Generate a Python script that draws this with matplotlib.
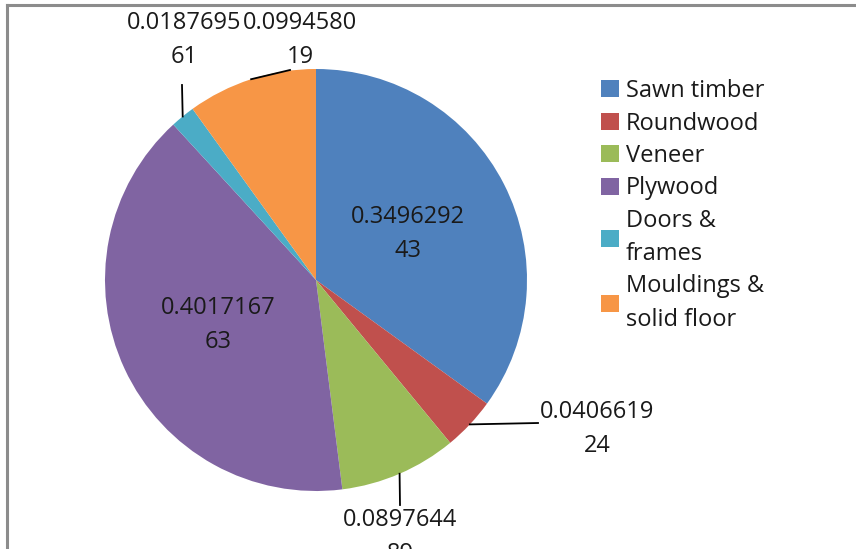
import numpy as np
import matplotlib
matplotlib.use("Agg")
import matplotlib.pyplot as plt
from matplotlib.lines import Line2D

# Share of wood product categories
categories = ["Sawn timber", "Roundwood", "Veneer", "Plywood",
              "Doors & frames", "Mouldings & solid floor"]
legend_labels = ["Sawn timber", "Roundwood", "Veneer", "Plywood",
                 "Doors &\nframes", "Mouldings &\nsolid floor"]
value_text = ["0.349629243", "0.040661924", "0.089764489", "0.401716763",
              "0.018769561", "0.099458019"]
values = [float(v) for v in value_text]
colors = ["#4F81BD", "#C0504D", "#9BBB59", "#8064A2", "#4BACC6", "#F79646"]

W, H = 856, 549
plt.rcParams["font.family"] = ["Open Sans", "DejaVu Sans"]
FS = 17

fig = plt.figure(figsize=(W / 100, H / 100), dpi=100)
ax = fig.add_axes([0, 0, 1, 1])

cx, cy, R = 316, H - 280, 211
wedges, _ = ax.pie(values, colors=colors, startangle=90, counterclock=False,
                   center=(cx, cy), radius=R, frame=True,
                   wedgeprops=dict(linewidth=0))
ax.set_xlim(0, W)
ax.set_ylim(0, H)
ax.set_aspect("equal")
ax.axis("off")


def wrap(s, n=9):
    return s[:n] + "\n" + s[n:]


# label centres in pixels (x from left, y from top)
label_pos = [(408, 234), (597, 429), (400, 537), (218, 325), (184, 40), (300, 40)]
# where each leader line ends; None = no leader
leader_end = [None, (538, 423), (400, 505), None, (182, 85), (290, 70)]

cum = np.cumsum([0] + values[:-1])
for i, v in enumerate(values):
    mid = (cum[i] + v / 2) * 2 * np.pi
    ex, ey = cx + R * np.sin(mid), cy + R * np.cos(mid)
    if leader_end[i] is not None:
        lx, ly = leader_end[i]
        ax.add_line(Line2D([ex, lx], [ey, H - ly], color="black", lw=1.3))
    tx, ty = label_pos[i]
    ax.text(tx, H - ty, wrap(value_text[i]), ha="center", va="center",
            fontsize=FS, linespacing=1.6, color="#1a1a1a")

# chart border
ax.add_line(Line2D([7, 7], [0, H - 5], color="#8c8c8c", lw=2.2))
ax.add_line(Line2D([7, W], [H - 5, H - 5], color="#8c8c8c", lw=2.2))

leg = ax.legend(wedges, legend_labels, loc="upper left",
                bbox_to_anchor=(601 / W, 1 - 79 / H), frameon=False,
                fontsize=FS, handlelength=0.75, handleheight=0.75,
                handletextpad=0.3, labelspacing=0.36, borderpad=0,
                borderaxespad=0)
for t in leg.get_texts():
    t.set_linespacing(1.5)
    t.set_color("#1a1a1a")

fig.savefig("out.png", dpi=100)
